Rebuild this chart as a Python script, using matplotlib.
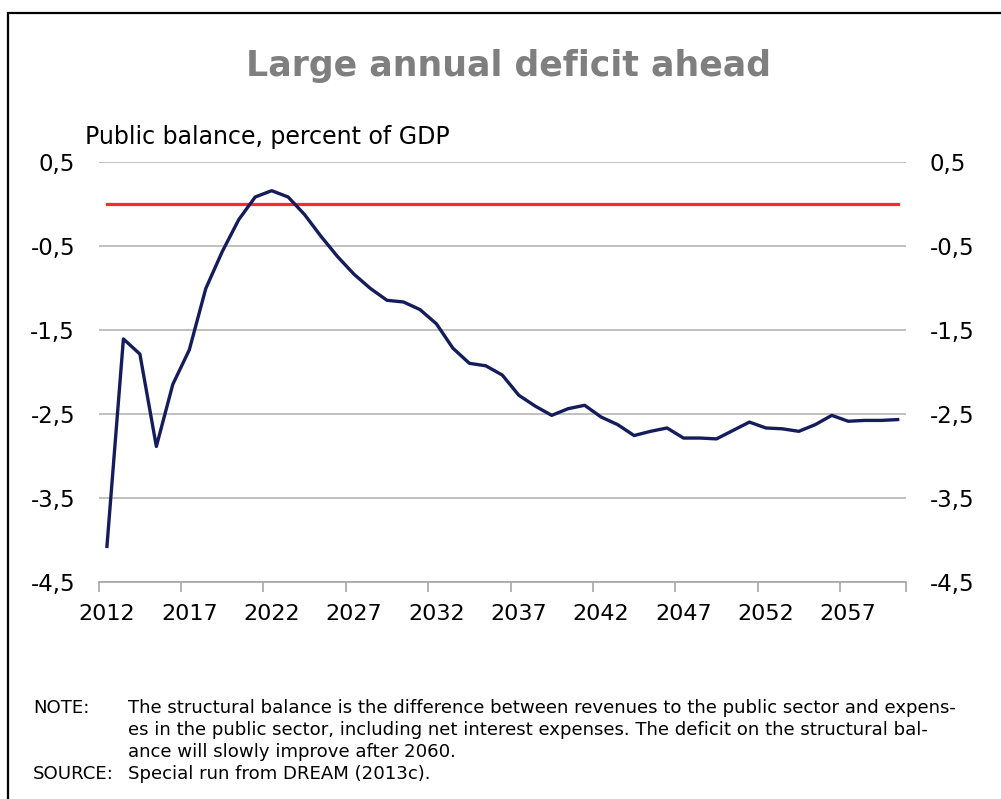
import matplotlib
matplotlib.use("Agg")
import matplotlib.pyplot as plt
from matplotlib.patches import Rectangle
from matplotlib.ticker import FixedLocator

years = list(range(2012, 2061))
balance = [-4.08, -1.61, -1.79, -2.89, -2.15, -1.74, -1.01, -0.57, -0.19, 0.08,
           0.155, 0.08, -0.13, -0.39, -0.63, -0.84, -1.01, -1.15, -1.17, -1.26,
           -1.43, -1.72, -1.90, -1.93, -2.04, -2.28, -2.41, -2.52, -2.44, -2.40,
           -2.54, -2.63, -2.76, -2.71, -2.67, -2.79, -2.79, -2.80, -2.70, -2.60,
           -2.67, -2.68, -2.71, -2.63, -2.52, -2.59, -2.58, -2.58, -2.57]
zero_line = [0.0] * len(years)
yticks = [0.5, -0.5, -1.5, -2.5, -3.5, -4.5]
xlabel_years = years[::5]

note_lines = [
    "The structural balance is the difference between revenues to the public sector and expens-",
    "es in the public sector, including net interest expenses. The deficit on the structural bal-",
    "ance will slowly improve after 2060.",
]
source_text = "Special run from DREAM (2013c)."

plt.rcParams["font.family"] = ["DejaVu Sans"]

fig = plt.figure(figsize=(10.01, 7.99), dpi=100)
ax = fig.add_axes([0.0986, 0.272, 0.8064, 0.5256])

# frame around the whole figure (top and left edges show)
fig.patches.append(Rectangle((8 / 1001, -0.1), 1.2, 1 - 13 / 799 + 0.1,
                             transform=fig.transFigure, fill=False,
                             edgecolor="black", linewidth=1.6))

ax.plot(years, zero_line, color="#ff2a2a", linewidth=2.3, zorder=3)
ax.plot(years, balance, color="#141c5c", linewidth=2.4, zorder=4)

ax.set_xlim(2011.5, 2060.5)
ax.set_ylim(-4.5, 0.5)
ax.set_yticks(yticks)
ax.set_yticklabels([f"{v:.1f}".replace(".", ",") for v in yticks])
ax.yaxis.grid(True, color="#c0c0c0", linewidth=1.4)
ax.set_axisbelow(True)
ax.tick_params(axis="y", length=0, labelsize=16.5, pad=17, colors="black")

ax.set_xticks(xlabel_years)
ax.set_xticklabels([str(y) for y in xlabel_years])
ax.xaxis.set_minor_locator(FixedLocator([y - 0.5 for y in xlabel_years] + [2060.5]))
ax.tick_params(axis="x", which="major", length=0, labelsize=16, pad=16)
ax.tick_params(axis="x", which="minor", length=7, color="#a6a6a6", width=1.2)

for side in ["left", "right", "top"]:
    ax.spines[side].set_visible(False)
ax.spines["bottom"].set_color("#a6a6a6")
ax.spines["bottom"].set_linewidth(1.2)

ax2 = ax.twinx()
ax2.set_ylim(ax.get_ylim())
ax2.set_yticks(yticks)
ax2.set_yticklabels([f"{v:.1f}".replace(".", ",") for v in yticks])
ax2.tick_params(axis="y", length=0, labelsize=16.5, pad=17)
for side in ["left", "right", "top", "bottom"]:
    ax2.spines[side].set_visible(False)

fig.text(509 / 1001, 1 - 66 / 799, "Large annual deficit ahead", ha="center",
         va="center", fontsize=25, fontweight="bold", color="#7f7f7f")
fig.text(85 / 1001, 1 - 137 / 799, "Public balance, percent of GDP",
         ha="left", va="center", fontsize=17)

y0 = 1 - 708 / 799
dy = 22 / 799
fs = 13.1
fig.text(33 / 1001, y0, "NOTE:", ha="left", va="center", fontsize=fs)
for i, line in enumerate(note_lines):
    fig.text(128 / 1001, y0 - i * dy, line, ha="left", va="center", fontsize=fs)
fig.text(33 / 1001, y0 - 3 * dy, "SOURCE:", ha="left", va="center", fontsize=fs)
fig.text(128 / 1001, y0 - 3 * dy, source_text, ha="left", va="center", fontsize=fs)

fig.savefig("out.png", dpi=100)
